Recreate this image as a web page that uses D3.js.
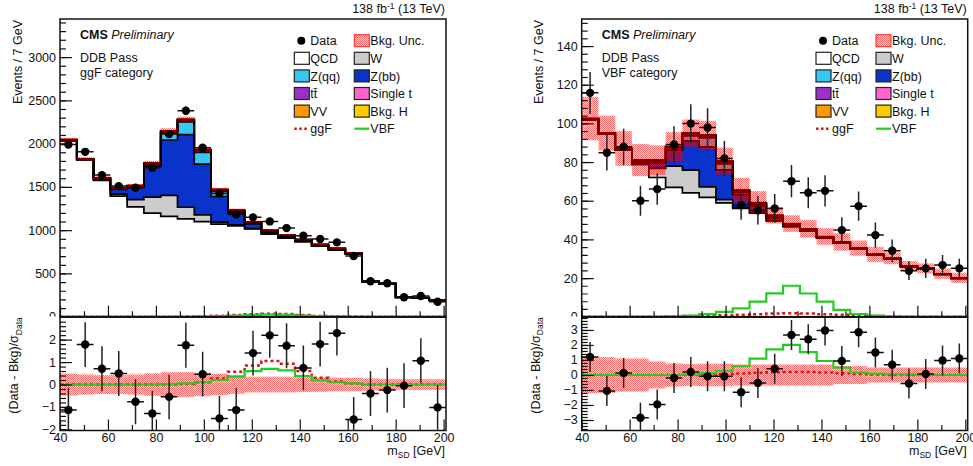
<!DOCTYPE html>
<html>
<head>
<meta charset="utf-8">
<script src="https://cdn.jsdelivr.net/npm/d3@7"></script>
<style>
  body { margin: 0; background: #fff; }
  svg { font-family: "Liberation Sans", Arial, sans-serif; }
</style>
</head>
<body>
<div id="chart"></div>
<script>
// bin edges of the soft-drop mass histogram (7 GeV bins)
const binEdges = [40,47,54,61,68,75,82,89,96,103,110,117,124,131,138,145,152,159,166,173,180,187,194,201];

// ---- ggF category ----
const ggfData  = [1990,1905,1636,1509,1490,1721,2110,2379,1952,1425,1182,1148,1101,1024,935,897,859,701,409,386,224,239,173];
const ggfQCD   = [2033,1814,1574,1393,1268,1196,1159,1130,1099,1070,1049,1014,953,909,867,815,773,726,403,378,223,215,187];
const ggfW     = [0,0,3,23,85,185,243,135,77,23,12,5,2,0,0,0,0,0,0,0,0,0,0];
const ggfZbb   = [0,0,15,54,140,360,640,840,588,296,135,55,25,15,10,7,5,3,2,1,1,1,1];
const ggfZqq   = [0,0,0,3,5,15,75,146,135,58,14,5,3,2,1,1,0,0,0,0,0,0,0];
const ggfTT    = [8,7,8,10,10,13,16,15,14,12,11,9,9,9,8,7,7,6,4,4,4,3,3];
const ggfST    = [3,3,3,4,4,5,5,5,5,4,4,3,3,3,3,3,3,2,2,1,1,1,1];
const ggfVV    = [1,1,2,3,3,5,10,8,10,5,3,2,2,2,1,1,1,1,1,1,1,0,1];
const ggfBkgH  = [0,0,0,0,0,0,0,1,2,3,5,4,4,3,3,2,1,1,0,0,0,0,0];
const ggfUnc   = [22,20,18,17,18,22,30,32,28,20,16,12,11,10,10,9,9,8,6,6,4,4,4];
const ggfSigGGF = [0,0,0,0,0,0,0,1,4,10,19,29,35,30,19,9,4,1.3,0,0,0,0,0];
const ggfSigVBF = [0,0,0,0,0,0,0,1,4,8,12,20,23,20,12,5,3,1,0,0,0,0,0];
const ggfPull    = [-1.14,1.78,0.7,0.49,-0.77,-1.29,-0.55,1.75,0.46,-1.51,-1.14,1.4,2.19,1.73,0.74,1.8,2.29,-1.56,-0.4,-0.25,-0.05,1.06,-1.02];
const ggfPullUnc = [0.49,0.45,0.42,0.42,0.45,0.5,0.55,0.55,0.52,0.48,0.42,0.35,0.35,0.35,0.33,0.32,0.3,0.3,0.27,0.25,0.24,0.24,0.24];
const ggfPullGGF = [0,0,0,0,0,0,0,0.02,0.1,0.27,0.57,0.85,1.05,0.93,0.6,0.3,0.13,0.05,0,0,0,0,0];
const ggfPullVBF = [0,0,0,0,0,0,0.02,0.05,0.1,0.2,0.35,0.6,0.7,0.63,0.38,0.18,0.1,0.05,0,0,0,0,0];

// ---- VBF category ----
const vbfData  = [115.8,84.8,87.9,60,66,89.1,99.9,97.9,81.9,57.7,55.1,56,70.1,64.1,65.1,44.8,57.2,42.2,34.1,23.8,25,26.7,25];
const vbfQCD   = [101.9,94.4,86.1,78.6,72,66.9,64.1,61.7,58.9,56,53.6,49.6,46.6,44.4,40.7,38.1,35,31.8,29.8,25.9,24.7,21.9,19.8];
const vbfW     = [0,0,0,0.5,4.7,11,11.7,5.5,1.7,0.5,0.2,0.1,0,0,0,0,0,0,0,0,0,0,0];
const vbfZbb   = [0,0,0.2,1,2.9,8.2,15.2,20.7,15.4,6.7,3.5,1.5,0.5,0.2,0.1,0,0,0,0,0,0,0,0];
const vbfZqq   = [0,0,0,0.1,0.2,0.5,2.5,4.6,3.1,1,0.5,0.2,0.1,0,0,0,0,0,0,0,0,0,0];
const vbfTT    = [0.5,0.5,0.6,0.7,0.9,1,1,1,0.9,0.8,0.7,0.6,0.5,0.5,0.4,0.4,0.3,0.3,0.3,0.2,0.2,0.2,0.2];
const vbfST    = [0.1,0.1,0.1,0.1,0.2,0.2,0.2,0.2,0.2,0.2,0.1,0.1,0.1,0.1,0.1,0.1,0.1,0.1,0.1,0.1,0.1,0.1,0.1];
const vbfVV    = [0,0,0,0,0.1,0.2,0.3,0.3,0.2,0.1,0.1,0,0,0,0,0,0,0,0,0,0,0,0];
const vbfBkgH  = [0,0,0,0,0,0,0,0,0.1,0.2,0.3,0.4,0.4,0.3,0.2,0.1,0.1,0,0,0,0,0,0];
const vbfUnc   = [11.2,9,9,8.3,7.7,7.5,7,7.3,6.9,6.3,6,4.3,4.3,4.5,4.3,4.5,3.9,3.9,3,2.6,2.6,2.6,2.6];
const vbfSigGGF = [0,0,0,0,0,0.1,0.3,0.5,0.7,1,1.3,1.6,1.8,1.6,1.3,1,0.5,0.3,0.1,0,0,0,0];
const vbfSigVBF = [0,0,0,0,0,0.2,0.6,1.3,2.5,4.3,7.8,12.1,16,12,7.8,3.5,1.4,0.6,0.2,0,0,0,0];
const vbfPull    = [1.2,-1.06,0.13,-2.85,-1.96,-0.2,0.2,-0.09,-0.09,-1.15,-0.53,0.42,2.67,2.38,2.96,0.93,2.85,1.5,0.68,-0.57,0.07,0.97,1.1];
const vbfPullUnc = [1.2,1.2,1.1,1.1,0.9,0.77,0.73,0.75,0.75,0.7,0.7,0.7,0.7,0.7,0.7,0.6,0.6,0.5,0.5,0.5,0.5,0.5,0.5];
const vbfPullGGF = [0,0,0,0,0,0,0,0.03,0.06,0.1,0.15,0.18,0.2,0.2,0.17,0.12,0.07,0.03,0,0,0,0,0];
const vbfPullVBF = [0,0,0,0,0,0,0.03,0.12,0.28,0.58,1.09,1.7,2.0,1.52,0.93,0.49,0.16,0.09,0.05,0.02,0,0,0];

// stack order bottom -> top, and legend labels
const stackKeys   = ["qcd","w","zbb","zqq","tt","st","vv","bkgh"];
const stackColors = {qcd:"#ffffff", w:"#cccccc", zbb:"#0a33cc", zqq:"#36c8f5", tt:"#9b30c8", st:"#ff66cc", vv:"#ff9900", bkgh:"#ffcc00"};
const legendRows = [
  [{label:"Data", type:"dot"}, {label:"Bkg. Unc.", type:"band"}],
  [{label:"QCD", key:"qcd"}, {label:"W", key:"w"}],
  [{label:"Z(qq)", key:"zqq"}, {label:"Z(bb)", key:"zbb"}],
  [{label:"tt\u0304", key:"tt"}, {label:"Single t", key:"st"}],
  [{label:"VV", key:"vv"}, {label:"Bkg. H", key:"bkgh"}],
  [{label:"ggF", type:"ggf"}, {label:"VBF", type:"vbf"}]
];
const ggfColor = "#dd1111";
const vbfColor = "#22cc22";

const panels = [
  {id:"ggf", left:60, category:"ggF category", yMax:3440, yTicks:[0,500,1000,1500,2000,2500,3000], yMinor:100,
   rMin:-2.05, rMax:3.0, rTicks:[-2,-1,0,1,2],
   data:ggfData, comps:{qcd:ggfQCD,w:ggfW,zbb:ggfZbb,zqq:ggfZqq,tt:ggfTT,st:ggfST,vv:ggfVV,bkgh:ggfBkgH},
   unc:ggfUnc, sigGGF:ggfSigGGF, sigVBF:ggfSigVBF, pull:ggfPull, pullUnc:ggfPullUnc, pullGGF:ggfPullGGF, pullVBF:ggfPullVBF},
  {id:"vbf", left:581.7, category:"VBF category", yMax:154, yTicks:[0,20,40,60,80,100,120,140], yMinor:4,
   rMin:-3.7, rMax:3.85, rTicks:[-3,-2,-1,0,1,2,3],
   data:vbfData, comps:{qcd:vbfQCD,w:vbfW,zbb:vbfZbb,zqq:vbfZqq,tt:vbfTT,st:vbfST,vv:vbfVV,bkgh:vbfBkgH},
   unc:vbfUnc, sigGGF:vbfSigGGF, sigVBF:vbfSigVBF, pull:vbfPull, pullUnc:vbfPullUnc, pullGGF:vbfPullGGF, pullVBF:vbfPullVBF}
];

const W = 973, H = 466;
const frameW = 386, frameTop = 19, mainBottom = 316.7, ratioTop = 317.2, ratioBottom = 430.5;
const fs = 12.5;
const fmt = d3.format("d");

const svg = d3.select("#chart").append("svg").attr("width", W).attr("height", H);
const defs = svg.append("defs");

// dotted red hatch like ROOT's fill style
const pat = defs.append("pattern").attr("id","unc").attr("width",2).attr("height",2)
  .attr("patternUnits","userSpaceOnUse");
pat.append("rect").attr("width",2).attr("height",2).attr("fill","rgba(255,0,0,0.17)");
pat.append("rect").attr("width",1).attr("height",1).attr("fill","rgba(255,0,0,0.5)");
pat.append("rect").attr("x",1).attr("y",1).attr("width",1).attr("height",1).attr("fill","rgba(255,0,0,0.5)");

const steps = vals => vals.flatMap((v, i) => [[binEdges[i], v], [binEdges[i+1], v]]);

function drawPanel(p) {
  const x = d3.scaleLinear().domain([40, 201]).range([p.left, p.left + frameW]);
  const y = d3.scaleLinear().domain([0, p.yMax]).range([mainBottom, frameTop]);
  const yr = d3.scaleLinear().domain([p.rMin, p.rMax]).range([ratioBottom, ratioTop]);

  // clip regions
  defs.append("clipPath").attr("id", `main-${p.id}`).append("rect")
    .attr("x", x(40)).attr("y", frameTop).attr("width", frameW).attr("height", mainBottom - frameTop);
  defs.append("clipPath").attr("id", `ratio-${p.id}`).append("rect")
    .attr("x", x(40)).attr("y", ratioTop).attr("width", frameW).attr("height", ratioBottom - ratioTop);
  defs.append("clipPath").attr("id", `mainpad-${p.id}`).append("rect")
    .attr("x", 0).attr("y", 0).attr("width", W).attr("height", 316.6);

  // ---------- main plot ----------
  const g = svg.append("g").attr("clip-path", `url(#main-${p.id})`);

  const rows = p.data.map((_, i) => Object.fromEntries(stackKeys.map(k => [k, p.comps[k][i]])));
  const layers = d3.stack().keys(stackKeys)(rows);

  const area = d3.area().x(d => x(d[0])).y0(d => y(d[1])).y1(d => y(d[2]));
  const line = d3.line().x(d => x(d[0])).y(d => y(d[1]));

  layers.forEach(layer => {
    const pts = layer.flatMap((d, i) => [[binEdges[i], d[0], d[1]], [binEdges[i+1], d[0], d[1]]]);
    g.append("path").attr("d", area(pts)).attr("fill", stackColors[layer.key]).attr("stroke", "none");
  });
  layers.forEach(layer => {
    g.append("path").attr("d", line(steps(layer.map(d => d[1]))))
      .attr("fill", "none").attr("stroke", "#000").attr("stroke-width", 1.7);
  });

  // background uncertainty band
  const totals = layers[layers.length - 1].map(d => d[1]);
  g.selectAll(null).data(totals).join("rect")
    .attr("x", (d, i) => x(binEdges[i])).attr("width", (d, i) => x(binEdges[i+1]) - x(binEdges[i]))
    .attr("y", (d, i) => y(d + p.unc[i])).attr("height", (d, i) => y(d - p.unc[i]) - y(d + p.unc[i]))
    .attr("fill", "url(#unc)");

  // signals
  g.append("path").attr("d", line(steps(p.sigGGF))).attr("fill","none")
    .attr("stroke", ggfColor).attr("stroke-width", 2.5).attr("stroke-dasharray", "3,3");
  g.append("path").attr("d", line(steps(p.sigVBF))).attr("fill","none")
    .attr("stroke", vbfColor).attr("stroke-width", 2.2);

  // data points
  const dg = g.append("g");
  p.data.forEach((d, i) => {
    const xc = x((binEdges[i] + binEdges[i+1]) / 2);
    dg.append("line").attr("x1", x(binEdges[i])).attr("x2", x(binEdges[i+1])).attr("y1", y(d)).attr("y2", y(d))
      .attr("stroke", "#111").attr("stroke-width", 1.5);
    dg.append("line").attr("x1", xc).attr("x2", xc).attr("y1", y(d - Math.sqrt(d))).attr("y2", y(d + Math.sqrt(d)))
      .attr("stroke", "#222").attr("stroke-width", 1.5);
    dg.append("circle").attr("cx", xc).attr("cy", y(d)).attr("r", 4.2).attr("fill", "#000");
  });

  // ---------- ratio plot ----------
  const rg = svg.append("g").attr("clip-path", `url(#ratio-${p.id})`);
  const lineR = d3.line().x(d => x(d[0])).y(d => yr(d[1]));
  rg.selectAll(null).data(p.pullUnc).join("rect")
    .attr("x", (d, i) => x(binEdges[i])).attr("width", (d, i) => x(binEdges[i+1]) - x(binEdges[i]))
    .attr("y", d => yr(d)).attr("height", d => yr(-d) - yr(d))
    .attr("fill", "url(#unc)");
  rg.append("path").attr("d", lineR(steps(p.pullGGF))).attr("fill","none")
    .attr("stroke", ggfColor).attr("stroke-width", 2.5).attr("stroke-dasharray", "3,3");
  rg.append("path").attr("d", lineR(steps(p.pullVBF))).attr("fill","none")
    .attr("stroke", vbfColor).attr("stroke-width", 2.2);
  p.pull.forEach((d, i) => {
    const xc = x((binEdges[i] + binEdges[i+1]) / 2);
    rg.append("line").attr("x1", x(binEdges[i])).attr("x2", x(binEdges[i+1])).attr("y1", yr(d)).attr("y2", yr(d))
      .attr("stroke", "#111").attr("stroke-width", 1.5);
    rg.append("line").attr("x1", xc).attr("x2", xc).attr("y1", yr(d - 1)).attr("y2", yr(d + 1))
      .attr("stroke", "#222").attr("stroke-width", 1.5);
    rg.append("circle").attr("cx", xc).attr("cy", yr(d)).attr("r", 4.2).attr("fill", "#000");
  });

  // ---------- axes ----------
  const styleAxis = sel => {
    sel.select(".domain").remove();
    sel.selectAll("line").attr("stroke", "#111").attr("stroke-width", 1.2);
    sel.selectAll("text").attr("font-size", fs).attr("fill", "#111").attr("font-family", null);
  };
  const xMajor = [40,60,80,100,120,140,160,180,200];
  const xMinor = [50,70,90,110,130,150,170,190];

  // main pad axes (labels clipped to pad)
  const mainAxes = svg.append("g").attr("clip-path", `url(#mainpad-${p.id})`);
  mainAxes.append("g").attr("transform", `translate(${x(40)},0)`)
    .call(d3.axisLeft(y).tickValues(p.yTicks).tickFormat(fmt).tickSize(-12).tickPadding(4)).call(styleAxis);
  mainAxes.append("g").attr("transform", `translate(${x(40)},0)`)
    .call(d3.axisLeft(y).tickValues(d3.range(0, p.yMax, p.yMinor)).tickSize(-6).tickFormat("")).call(styleAxis);
  mainAxes.append("g").attr("transform", `translate(0,${mainBottom})`)
    .call(d3.axisBottom(x).tickValues(xMajor).tickSize(-11).tickFormat("")).call(styleAxis);
  mainAxes.append("g").attr("transform", `translate(0,${mainBottom})`)
    .call(d3.axisBottom(x).tickValues(xMinor).tickSize(-5.5).tickFormat("")).call(styleAxis);

  // ratio pad axes
  svg.append("g").attr("transform", `translate(${x(40)},0)`)
    .call(d3.axisLeft(yr).tickValues(p.rTicks).tickFormat(fmt).tickSize(-12).tickPadding(4)).call(styleAxis);
  svg.append("g").attr("transform", `translate(${x(40)},0)`)
    .call(d3.axisLeft(yr).tickValues(d3.range(Math.ceil(p.rMin * 5) / 5, p.rMax, 0.2)).tickSize(-6).tickFormat("")).call(styleAxis);
  svg.append("g").attr("transform", `translate(0,${ratioBottom})`)
    .call(d3.axisBottom(x).tickValues(xMajor).tickFormat(fmt).tickSize(-11).tickPadding(3)).call(styleAxis);
  svg.append("g").attr("transform", `translate(0,${ratioBottom})`)
    .call(d3.axisBottom(x).tickValues(xMinor).tickSize(-5.5).tickFormat("")).call(styleAxis);

  // frames
  svg.append("rect").attr("x", x(40)).attr("y", frameTop).attr("width", frameW).attr("height", mainBottom - frameTop)
    .attr("fill", "none").attr("stroke", "#111").attr("stroke-width", 1.5);
  svg.append("rect").attr("x", x(40)).attr("y", ratioTop).attr("width", frameW).attr("height", ratioBottom - ratioTop)
    .attr("fill", "none").attr("stroke", "#111").attr("stroke-width", 1.5);

  // ---------- texts ----------
  const L = x(40), R = x(201);
  const t = svg.append("g").attr("font-size", fs).attr("fill", "#111");

  const lumi = t.append("text").attr("x", R - 1).attr("y", 13).attr("text-anchor", "end");
  lumi.append("tspan").text("138 fb");
  lumi.append("tspan").attr("dy", -4.5).attr("font-size", 8.5).text("-1");
  lumi.append("tspan").attr("dy", 4.5).text(" (13 TeV)");

  const cms = t.append("text").attr("x", L + 20).attr("y", 38.5);
  cms.append("tspan").attr("font-weight", "bold").text("CMS");
  cms.append("tspan").attr("font-style", "italic").text(" Preliminary");
  t.append("text").attr("x", L + 20).attr("y", 62).text("DDB Pass");
  t.append("text").attr("x", L + 20).attr("y", 77).text(p.category);

  // y titles
  t.append("text").attr("transform", `translate(${L - 38.5},${frameTop + 1}) rotate(-90)`)
    .attr("text-anchor", "end").text("Events / 7 GeV");
  const rt = t.append("text").attr("transform", `translate(${L - 42},${ratioTop}) rotate(-90)`)
    .attr("text-anchor", "end");
  rt.append("tspan").text("(Data - Bkg)/\u03c3");
  rt.append("tspan").attr("dy", 3.5).attr("font-size", 8.5).text("Data");

  // x title
  const xt = t.append("text").attr("x", R - 1).attr("y", 455).attr("text-anchor", "end");
  xt.append("tspan").text("m");
  xt.append("tspan").attr("dy", 3).attr("font-size", 8.5).text("SD");
  xt.append("tspan").attr("dy", -3).text(" [GeV]");

  // legend
  const lg = svg.append("g").attr("font-size", fs).attr("fill", "#111");
  legendRows.forEach((row, r) => {
    const cy = frameTop + 21.7 + r * 17.6;
    row.forEach((item, c) => {
      const bx = L + 234.3 + c * 60;
      if (item.type === "dot") {
        lg.append("circle").attr("cx", bx + 7).attr("cy", cy).attr("r", 4).attr("fill", "#000");
      } else if (item.type === "band") {
        lg.append("rect").attr("x", bx).attr("y", cy - 6).attr("width", 15).attr("height", 12)
          .attr("fill", "url(#unc)").attr("stroke", "#ff2020").attr("stroke-width", 1);
      } else if (item.type === "ggf") {
        lg.append("line").attr("x1", bx).attr("x2", bx + 15).attr("y1", cy).attr("y2", cy)
          .attr("stroke", ggfColor).attr("stroke-width", 2.5).attr("stroke-dasharray", "2.5,2.5");
      } else if (item.type === "vbf") {
        lg.append("line").attr("x1", bx).attr("x2", bx + 15).attr("y1", cy).attr("y2", cy)
          .attr("stroke", vbfColor).attr("stroke-width", 2.2);
      } else {
        lg.append("rect").attr("x", bx).attr("y", cy - 6).attr("width", 15).attr("height", 12)
          .attr("fill", stackColors[item.key]).attr("stroke", "#222").attr("stroke-width", 1.2);
      }
      lg.append("text").attr("x", bx + 16).attr("y", cy + 4.6).text(item.label);
    });
  });
}

panels.forEach(drawPanel);
</script>
</body>
</html>
